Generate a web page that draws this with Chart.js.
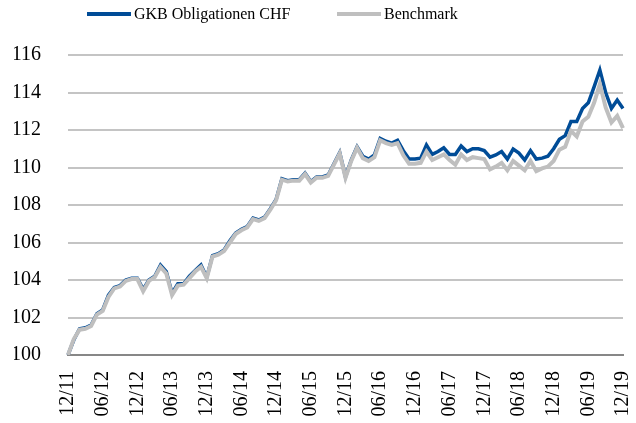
<!DOCTYPE html>
<html>
<head>
<meta charset="utf-8">
<script src="https://cdn.jsdelivr.net/npm/chart.js"></script>
<style>
  html, body { margin: 0; padding: 0; background: #fff; }
  #wrap { position: relative; width: 636px; height: 423px; }
  #chart1 { position: absolute; left: 0; top: 0; }
  .legend { position: absolute; top: 5px; left: 87px; display: flex; align-items: center;
            font: 16px "Liberation Serif", serif; color: #000; white-space: nowrap; }
  .legend span.line { display: inline-block; width: 44px; height: 4px; margin-right: 3px; }
  .legend .item { display: flex; align-items: center; }
</style>
</head>
<body>
<div id="wrap">
  <canvas id="chart1" width="636" height="423"></canvas>
  <div class="legend">
    <div class="item" style="width:250px"><span class="line" style="background:#004C97"></span>GKB Obligationen CHF</div>
    <div class="item"><span class="line" style="background:#BFBFBF"></span>Benchmark</div>
  </div>
</div>
<script>
// monthly index values, 12/11 = 100
const fund = [
  100.0, 100.8, 101.4, 101.45, 101.6, 102.2, 102.4, 103.2, 103.6, 103.7, 104.0, 104.1,
  104.1, 103.5, 104.0, 104.2, 104.8, 104.45, 103.3, 103.8, 103.8, 104.2, 104.5, 104.8,
  104.15, 105.3, 105.4, 105.6, 106.1, 106.5, 106.7, 106.85, 107.3, 107.2, 107.35, 107.8,
  108.3, 109.4, 109.3, 109.35, 109.35, 109.7, 109.25, 109.5, 109.5, 109.6, 110.2, 110.8,
  109.5, 110.4, 111.1, 110.6, 110.45, 110.67, 111.55, 111.4, 111.3, 111.45, 110.9, 110.45,
  110.45, 110.5, 111.2, 110.7, 110.85, 111.05, 110.7, 110.7, 111.15, 110.85, 111.0, 111.0,
  110.9, 110.55, 110.67, 110.85, 110.45, 110.98, 110.77, 110.4, 110.9, 110.45, 110.5, 110.6,
  111.0, 111.5, 111.7, 112.45, 112.45, 113.15, 113.45, 114.3, 115.2, 114.0, 113.15, 113.6,
  113.15
];
const benchmark = [
  100.0, 100.85, 101.35, 101.4, 101.55, 102.15, 102.35, 103.1, 103.55, 103.65, 103.95, 104.05,
  104.05, 103.4, 103.95, 104.15, 104.7, 104.35, 103.2, 103.7, 103.75, 104.1, 104.45, 104.7,
  104.1, 105.25, 105.35, 105.55, 106.0, 106.45, 106.65, 106.8, 107.25, 107.15, 107.3, 107.75,
  108.25, 109.35, 109.25, 109.3, 109.3, 109.65, 109.2, 109.45, 109.45, 109.55, 110.15, 110.75,
  109.45, 110.35, 111.05, 110.5, 110.35, 110.55, 111.45, 111.3, 111.2, 111.3, 110.65, 110.2,
  110.2, 110.25, 110.85, 110.4, 110.55, 110.7, 110.4, 110.15, 110.7, 110.4, 110.55, 110.5,
  110.45, 109.9, 110.05, 110.25, 109.85, 110.35, 110.1, 109.85, 110.35, 109.8, 109.95, 110.05,
  110.35, 110.95, 111.1, 111.95, 111.65, 112.45, 112.7, 113.45, 114.45, 113.2, 112.4, 112.75,
  112.1
];
const yTicks = [100, 102, 104, 106, 108, 110, 112, 114, 116];

// month labels mm/yy starting 12/11
const months = [];
for (let i = 0; i < fund.length; i++) {
  const m = (11 + i) % 12 + 1;
  const y = 11 + Math.floor((11 + i) / 12);
  months.push(String(m).padStart(2, '0') + '/' + String(y).padStart(2, '0'));
}

const serif = '"Liberation Serif", serif';
const ctx1 = document.getElementById('chart1');

new Chart(ctx1, {
  type: 'line',
  data: {
    labels: months,
    datasets: [{
      label: 'GKB Obligationen CHF',
      data: fund,
      borderColor: '#004C97',
      backgroundColor: '#004C97',
      borderWidth: 3.5,
      pointRadius: 0,
      tension: 0,
      order: 1,
    }, {
      label: 'Benchmark',
      data: benchmark,
      borderColor: '#BFBFBF',
      backgroundColor: '#BFBFBF',
      borderWidth: 4,
      pointRadius: 0,
      tension: 0,
      order: 0,
    }],
  },
  options: {
    responsive: false,
    animation: false,
    layout: { padding: { top: 55, left: 14, right: 13, bottom: 0 } },
    plugins: {
      legend: { display: false },
      tooltip: { enabled: false },
    },
    scales: {
      x: {
        grid: { display: false, drawTicks: false },
        border: { display: true, color: '#878787', width: 2 },
        afterFit: (scale) => { scale.height = 68; scale.paddingLeft = 0; scale.paddingRight = 0; },
        ticks: {
          autoSkip: false,
          minRotation: 90,
          maxRotation: 90,
          padding: 16,
          color: '#000',
          font: { family: serif, size: 20 },
          callback: (v, i) => (i % 6 === 0 ? months[i] : null),
        },
      },
      y: {
        min: 100,
        max: 116,
        afterBuildTicks: (axis) => { axis.ticks = yTicks.map(v => ({ value: v })); },
        afterFit: (scale) => { scale.width = 54; },
        grid: { color: '#C4C4C4', lineWidth: 2, drawTicks: false },
        border: { display: false },
        ticks: {
          padding: 27,
          color: '#000',
          font: { family: serif, size: 20 },
        },
      },
    },
  },
});
</script>
</body>
</html>
